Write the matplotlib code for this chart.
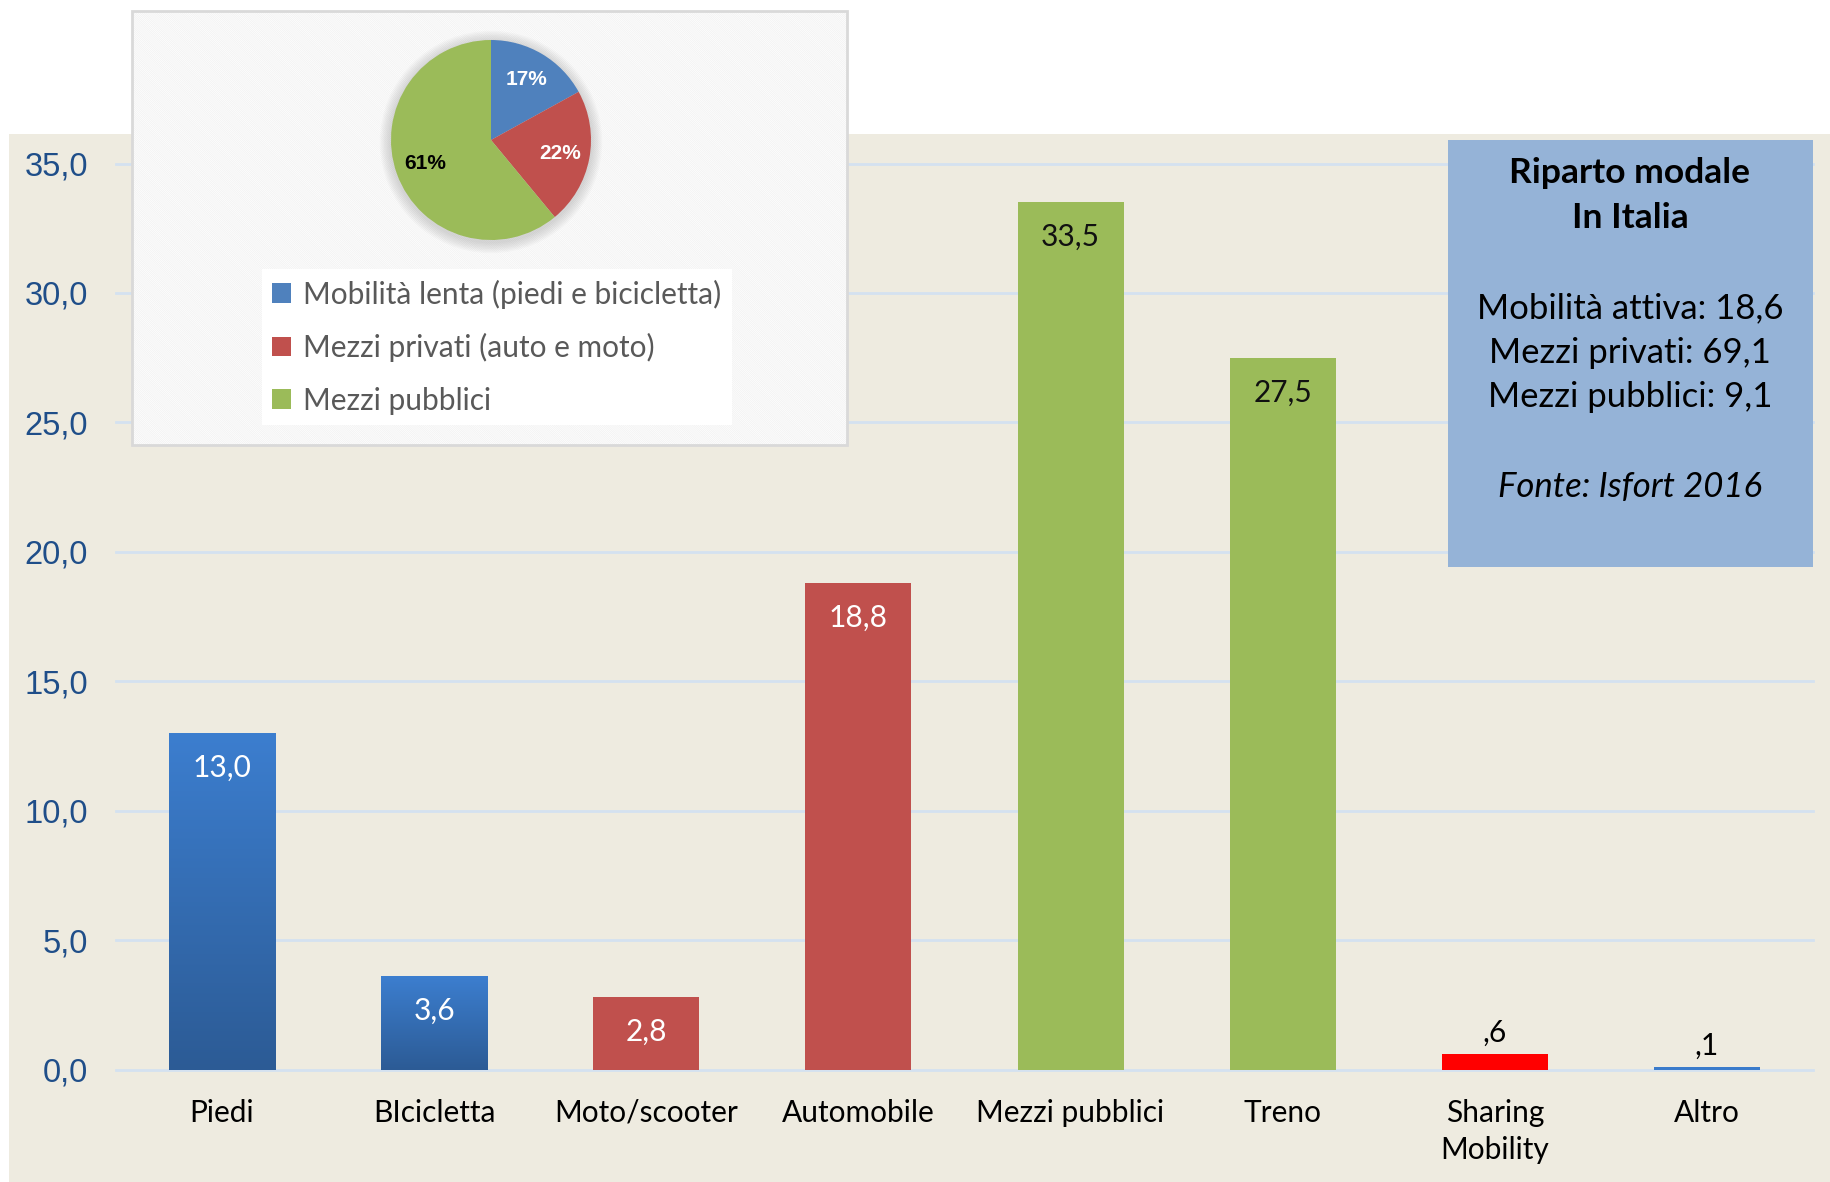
import numpy as np
import matplotlib.pyplot as plt
from matplotlib.patches import Rectangle, Circle
from matplotlib.colors import LinearSegmentedColormap

plt.rcParams['font.family'] = ['Lato', 'DejaVu Sans']
plt.rcParams['hatch.linewidth'] = 0.6

# figure size in pixels (dpi 100)
W, H = 1831, 1182

# --- data ---
categories = ['Piedi', 'BIcicletta', 'Moto/scooter', 'Automobile',
              'Mezzi pubblici', 'Treno', 'Sharing\nMobility', 'Altro']
values = [13.0, 3.6, 2.8, 18.8, 33.5, 27.5, 0.6, 0.1]
bar_colors = ['#3A7BCB', '#3A7BCB', '#C0504D', '#C0504D',
              '#9BBB59', '#9BBB59', '#FF0000', '#3A7BCB']
label_colors = ['white', 'white', 'white', 'white',
                '#111111', '#111111', 'black', 'black']
gradient_bars = [0, 1]

pie_labels = ['Mobilità lenta (piedi e bicicletta)',
              'Mezzi privati (auto e moto)',
              'Mezzi pubblici']
pie_values = [17, 22, 61]
pie_colors = ['#4F81BD', '#C0504D', '#9BBB59']
pie_text_colors = ['white', 'white', 'black']

box_title = ['Riparto modale', 'In Italia']
box_lines = ['Mobilità attiva: 18,6', 'Mezzi privati: 69,1', 'Mezzi pubblici: 9,1']
box_source = 'Fonte: Isfort 2016'


def fx(px):
    return px / W


def fy(py):
    return 1 - py / H


def fmt(v):
    s = f'{v:.1f}'.replace('.', ',')
    return s[1:] if s.startswith('0') else s


fig = plt.figure(figsize=(W / 100, H / 100), dpi=100, facecolor='white')

# beige chart area
fig.add_artist(Rectangle((fx(9), 0), (W - 9) / W, 1 - 134 / H,
                         transform=fig.transFigure, fc='#EEEBE0', ec='none', zorder=-5))

# --- main bar chart ---
ax = fig.add_axes([fx(116), fy(1069.6), (1813 - 116) / W, (1069.6 - 163.5) / H])
ax.set_facecolor('none')
x = np.arange(len(categories))
bars = ax.bar(x, values, width=0.5, color=bar_colors, zorder=3)

cmap = LinearSegmentedColormap.from_list('blu', ['#2C5B95', '#3C7ECF'])
grad = np.linspace(0, 1, 256).reshape(-1, 1)
for i in gradient_bars:
    b = bars[i]
    im = ax.imshow(grad, extent=[b.get_x(), b.get_x() + b.get_width(), 0, b.get_height()],
                   origin='lower', aspect='auto', cmap=cmap, zorder=3.5)
    im.set_clip_path(b)

ax.set_xlim(-0.5, len(categories) - 0.5)
ax.set_ylim(0, 35)

yt = np.arange(0, 36, 5)
ax.set_yticks(yt, labels=[fmt(v) if v else '0,0' for v in yt],
              fontfamily='Liberation Sans', fontsize=23.5, color='#1F4E89')
ax.set_xticks(x, labels=categories, fontsize=21.5, linespacing=1.42)
ax.tick_params(axis='both', length=0)
ax.tick_params(axis='y', pad=20)
ax.tick_params(axis='x', pad=21)
ax.yaxis.grid(True, color='#D4E1F0', lw=2)
ax.set_axisbelow(True)
for gl in ax.get_ygridlines():
    gl.set_clip_on(False)
for s in ax.spines.values():
    s.set_visible(False)

for xi, v, c in zip(x, values, label_colors):
    if v > 1.5:
        ax.annotate(fmt(v), (xi, v), xytext=(0, -25), textcoords='offset points',
                    ha='center', va='center', fontsize=21.5, color=c, zorder=5)
    else:
        ax.annotate(fmt(v), (xi, v), xytext=(0, 15), textcoords='offset points',
                    ha='center', va='center', fontsize=21.5, color=c, zorder=5)

# --- pie inset ---
fig.add_artist(Rectangle((fx(132), fy(445)), 715 / W, 434 / H, transform=fig.transFigure,
                         fc='white', ec='#F2F2F2', hatch='\\' * 16, lw=0, zorder=1))
fig.add_artist(Rectangle((fx(132), fy(445)), 715 / W, 434 / H, transform=fig.transFigure,
                         fill=False, ec='#D9D9D9', lw=2, zorder=1))

ax_pie = fig.add_axes([fx(491 - 120), fy(140 + 120), 240 / W, 240 / H])
ax_pie.set_zorder(2)
ax_pie.set_facecolor('none')
for k in range(8):
    ax_pie.add_patch(Circle((0, -0.02), 1.0 + 0.014 * (k + 1), color='#808080',
                            alpha=0.04, lw=0, zorder=0))
wedges, texts, autotexts = ax_pie.pie(
    pie_values, colors=pie_colors, startangle=90, counterclock=False,
    autopct=lambda p: f'{p:.0f}%', pctdistance=0.7,
    textprops=dict(fontfamily='Liberation Sans', fontweight='bold', fontsize=15),
    wedgeprops=dict(linewidth=0), frame=False)
for t, c in zip(autotexts, pie_text_colors):
    t.set_color(c)
ax_pie.set_xlim(-1.2, 1.2)
ax_pie.set_ylim(-1.2, 1.2)
ax_pie.set_aspect('equal')
ax_pie.axis('off')

ax_pie.legend(wedges, pie_labels, loc='upper left',
              bbox_to_anchor=(fx(262), fy(269)), bbox_transform=fig.transFigure,
              borderaxespad=0, frameon=True, facecolor='white', edgecolor='none',
              framealpha=1, fancybox=False, handlelength=0.62, handleheight=0.62,
              handletextpad=0.4, labelspacing=0.82, borderpad=0.35,
              prop=dict(family='Lato', size=21.5), labelcolor='#595959')

# --- text box on the right ---
fig.add_artist(Rectangle((fx(1448), fy(567)), 365 / W, 427 / H, transform=fig.transFigure,
                         fc='#95B3D7', ec='none', zorder=1))
cx = fx(1630)
for t, yy in zip(box_title, [173, 218]):
    fig.text(cx, fy(yy), t, ha='center', va='center', fontsize=25.5, fontweight='bold', zorder=3)
for t, yy in zip(box_lines, [308, 353, 397]):
    fig.text(cx, fy(yy), t, ha='center', va='center', fontsize=25, zorder=3)
fig.text(cx, fy(487), box_source, ha='center', va='center', fontsize=25,
         fontstyle='italic', zorder=3)

fig.savefig('out.png', dpi=100, facecolor='white')
